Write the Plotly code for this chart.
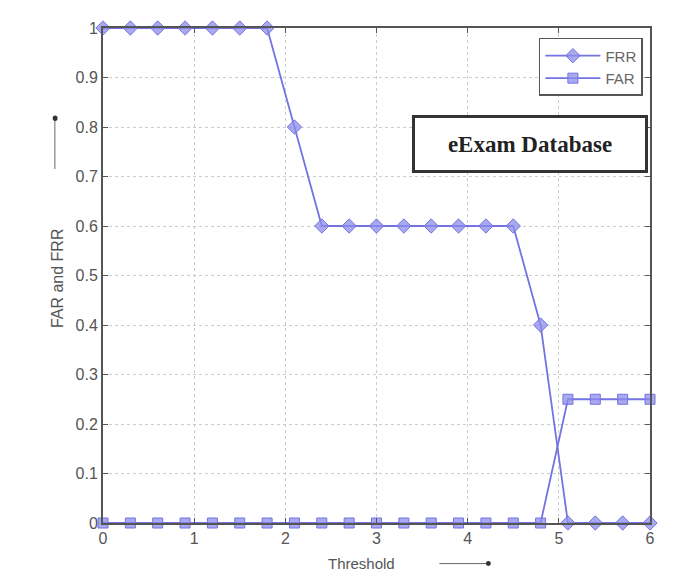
import plotly.graph_objects as go

threshold = [0, 0.3, 0.6, 0.9, 1.2, 1.5, 1.8, 2.1, 2.4, 2.7, 3.0, 3.3, 3.6, 3.9, 4.2, 4.5, 4.8, 5.1, 5.4, 5.7, 6.0]
frr = [1, 1, 1, 1, 1, 1, 1, 0.8, 0.6, 0.6, 0.6, 0.6, 0.6, 0.6, 0.6, 0.6, 0.4, 0, 0, 0, 0]
far = [0, 0, 0, 0, 0, 0, 0, 0, 0, 0, 0, 0, 0, 0, 0, 0, 0, 0.25, 0.25, 0.25, 0.25]
x_ticks = [0, 1, 2, 3, 4, 5, 6]
y_ticks = [0, 0.1, 0.2, 0.3, 0.4, 0.5, 0.6, 0.7, 0.8, 0.9, 1]
y_tick_text = ["0", "0.1", "0.2", "0.3", "0.4", "0.5", "0.6", "0.7", "0.8", "0.9", "1"]

line_col = "#7373e2"
fill_col = "rgba(140,140,235,0.75)"

fig = go.Figure()
fig.add_trace(go.Scatter(x=threshold, y=frr, name="FRR", mode="lines+markers",
                         line=dict(color=line_col, width=1.8),
                         marker=dict(symbol="diamond", size=11, color=fill_col,
                                     line=dict(color=line_col, width=1)),
                         cliponaxis=False))
fig.add_trace(go.Scatter(x=threshold, y=far, name="FAR", mode="lines+markers",
                         line=dict(color=line_col, width=1.8),
                         marker=dict(symbol="square", size=10, color=fill_col,
                                     line=dict(color=line_col, width=1)),
                         cliponaxis=False))

axis_common = dict(showline=True, linecolor="#555", linewidth=2, mirror="ticks",
                   ticks="inside", ticklen=5, tickcolor="#555",
                   showgrid=True, gridcolor="#cccccc", griddash="dot", gridwidth=1,
                   zeroline=False,
                   tickfont=dict(family="Liberation Sans, Arial", size=16, color="#555"))

fig.update_layout(
    width=698, height=577,
    margin=dict(l=95, r=56, t=20, b=62),
    paper_bgcolor="white", plot_bgcolor="white",
    xaxis=dict(range=[0, 6], tickvals=x_ticks, ticktext=[str(v) for v in x_ticks], **axis_common),
    yaxis=dict(range=[0, 1], tickvals=y_ticks, ticktext=y_tick_text, ticklabelstandoff=0, **axis_common),
    showlegend=True,
    legend=dict(x=0.987, y=0.98, xanchor="right", yanchor="top",
                bgcolor="white", bordercolor="#555", borderwidth=1.5,
                font=dict(family="Liberation Sans, Arial", size=15, color="#666"),
                itemwidth=55, tracegroupgap=0),
    annotations=[
        dict(xref="paper", yref="paper", x=0.781, y=0.766, xanchor="center", yanchor="middle",
             text="<b>eExam Database</b>",
             showarrow=False, font=dict(family="Liberation Serif, Times New Roman", size=23, color="#222"),
             bordercolor="#333", borderwidth=3, borderpad=4, bgcolor="white",
             width=222, height=44),
        dict(xref="paper", yref="paper", x=0.472, y=-0.081, xanchor="center", yanchor="middle",
             text="Threshold", showarrow=False,
             font=dict(family="Liberation Sans, Arial", size=15, color="#555")),
        dict(xref="paper", yref="paper", x=-0.082, y=0.495, xanchor="center", yanchor="middle",
             text="FAR and FRR", showarrow=False, textangle=-90,
             font=dict(family="Liberation Sans, Arial", size=16, color="#555")),
    ],
    shapes=[
        dict(type="line", xref="paper", yref="paper", x0=0.615, x1=0.705, y0=-0.082, y1=-0.082,
             line=dict(color="#666", width=1)),
        dict(type="circle", xref="paper", yref="paper", x0=0.700, x1=0.709, y0=-0.087, y1=-0.077,
             fillcolor="#333", line=dict(color="#333", width=0)),
        dict(type="line", xref="paper", yref="paper", x0=-0.088, x1=-0.088, y0=0.715, y1=0.82,
             line=dict(color="#666", width=1)),
        dict(type="circle", xref="paper", yref="paper", x0=-0.092, x1=-0.083, y0=0.812, y1=0.823,
             fillcolor="#333", line=dict(color="#333", width=0)),
    ],
)

fig.write_html("out.html")
